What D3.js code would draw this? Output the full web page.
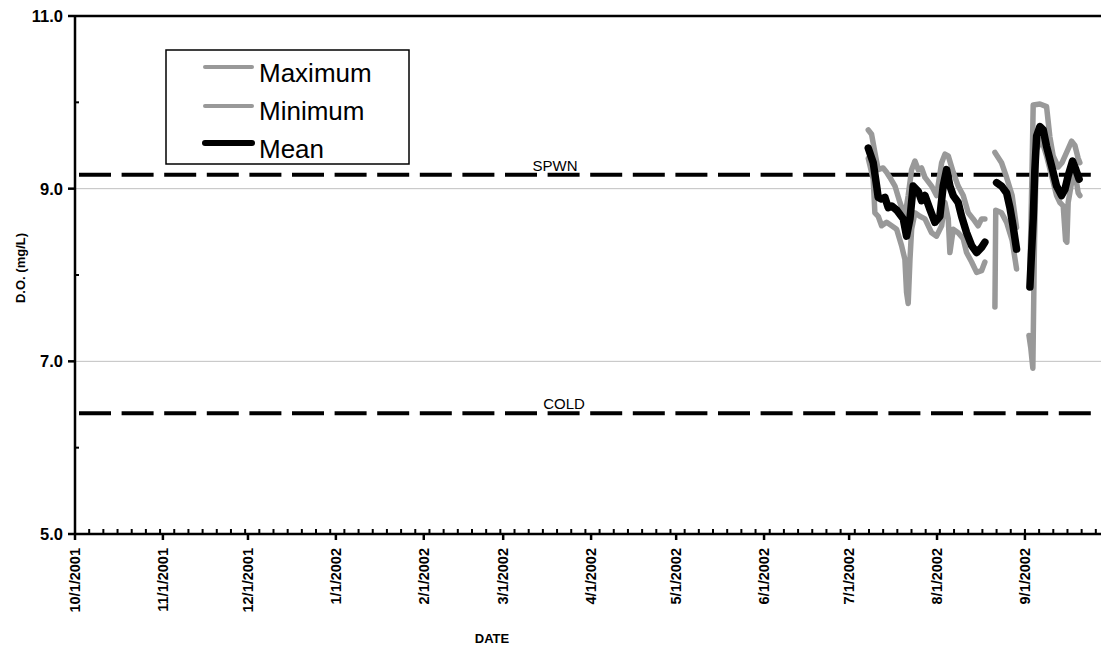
<!DOCTYPE html>
<html>
<head>
<meta charset="utf-8">
<script src="https://cdn.jsdelivr.net/npm/d3@7"></script>
<style>
  html, body { margin: 0; padding: 0; background: #fff; }
  svg { display: block; font-family: Arial, "Liberation Sans", sans-serif; }
</style>
</head>
<body>
<svg id="chart" width="1101" height="649"></svg>
<script>
// ---------- DATA ----------
const xDomain = ["2001-10-01", "2002-10-01"];
const yDomain = [5, 11];
const yMajorTicks = [5, 7, 9, 11];
const yMinorTicks = [6, 8, 10];
const yGridValues = [7, 9];
const monthTickDates = ["2001-10-01","2001-11-01","2001-12-01","2002-01-01","2002-02-01","2002-03-01",
  "2002-04-01","2002-05-01","2002-06-01","2002-07-01","2002-08-01","2002-09-01"];
const minorTickDays = 5;
const criteria = [{ name: "SPWN", value: 9.16 }, { name: "COLD", value: 6.40 }];
const legendNames = ["Maximum", "Minimum", "Mean"];

const maxSeries = [
  ["2002-07-07 18:00",9.68],["2002-07-08 22:00",9.63],["2002-07-10 02:00",9.42],["2002-07-11 06:00",9.22],
  ["2002-07-13 00:00",9.24],["2002-07-14 05:00",9.19],["2002-07-15 09:00",9.13],["2002-07-17 04:00",9.03],
  ["2002-07-18 22:00",8.84],["2002-07-20 16:00",8.68],["2002-07-21 20:00",8.92],["2002-07-23 01:00",9.22],
  ["2002-07-24 05:00",9.32],["2002-07-25 09:00",9.22],["2002-07-26 13:00",9.24],["2002-07-27 18:00",9.13],
  ["2002-07-30 02:00",9.03],["2002-07-31 20:00",8.92],["2002-08-02 15:00",9.30],["2002-08-03 19:00",9.40],
  ["2002-08-04 23:00",9.38],["2002-08-06 17:00",9.19],["2002-08-08 11:00",9.03],["2002-08-10 06:00",8.92],
  ["2002-08-12 00:00",8.72],["2002-08-13 18:00",8.65],["2002-08-15 12:00",8.57],["2002-08-16 17:00",8.65],
  ["2002-08-17 21:00",8.65],
  ["2002-08-20 00:00",null],
  ["2002-08-21 10:00",9.42],["2002-08-23 18:00",9.30],["2002-08-25 13:00",9.13],["2002-08-27 12:00",8.92],
  ["2002-08-29 01:00",8.55],
  ["2002-08-31 00:00",null],
  ["2002-09-02 18:00",8.00],["2002-09-03 12:00",9.20],["2002-09-03 22:00",9.97],["2002-09-06 07:00",9.98],
  ["2002-09-08 15:00",9.95],["2002-09-09 19:00",9.60],["2002-09-10 23:00",9.38],["2002-09-12 18:00",9.25],
  ["2002-09-14 01:00",9.30],["2002-09-15 17:00",9.42],["2002-09-17 11:00",9.55],["2002-09-18 15:00",9.50],
  ["2002-09-19 19:00",9.35],["2002-09-20 09:00",9.30]
];

const minSeries = [
  ["2002-07-07 18:00",9.35],["2002-07-09 12:00",9.11],["2002-07-10 02:00",8.72],["2002-07-11 06:00",8.68],
  ["2002-07-12 11:00",8.57],["2002-07-14 05:00",8.61],["2002-07-16 00:00",8.57],["2002-07-17 18:00",8.53],
  ["2002-07-19 12:00",8.34],["2002-07-20 16:00",8.18],["2002-07-21 06:00",7.80],["2002-07-21 20:00",7.67],
  ["2002-07-22 11:00",8.18],["2002-07-23 01:00",8.53],["2002-07-24 05:00",8.72],["2002-07-25 23:00",8.68],
  ["2002-07-27 18:00",8.65],["2002-07-30 02:00",8.49],["2002-07-31 20:00",8.45],["2002-08-02 15:00",8.57],
  ["2002-08-03 19:00",8.84],["2002-08-04 23:00",8.65],["2002-08-05 13:00",8.26],["2002-08-06 17:00",8.53],
  ["2002-08-08 11:00",8.49],["2002-08-10 06:00",8.42],["2002-08-11 10:00",8.26],["2002-08-13 05:00",8.15],
  ["2002-08-14 23:00",8.03],["2002-08-16 17:00",8.05],["2002-08-17 21:00",8.15],
  ["2002-08-20 00:00",null],
  ["2002-08-21 10:00",7.63],["2002-08-21 17:00",8.75],["2002-08-23 18:00",8.72],["2002-08-25 13:00",8.61],
  ["2002-08-27 12:00",8.40],["2002-08-29 01:00",8.07],
  ["2002-08-31 00:00",null],
  ["2002-09-02 10:00",7.30],["2002-09-03 02:00",7.15],["2002-09-03 19:00",6.92],["2002-09-04 08:00",8.30],
  ["2002-09-05 01:00",9.45],["2002-09-06 21:00",9.57],["2002-09-08 15:00",9.38],["2002-09-10 10:00",9.15],
  ["2002-09-12 04:00",8.92],["2002-09-13 08:00",8.84],["2002-09-14 12:00",8.80],["2002-09-15 08:00",8.40],
  ["2002-09-15 19:00",8.38],["2002-09-16 06:00",8.84],["2002-09-17 11:00",9.07],["2002-09-18 15:00",9.19],
  ["2002-09-19 19:00",8.95],["2002-09-20 09:00",8.92]
];

const meanSeries = [
  ["2002-07-07 18:00",9.47],["2002-07-09 12:00",9.30],["2002-07-10 17:00",9.03],["2002-07-11 06:00",8.90],
  ["2002-07-12 11:00",8.88],["2002-07-13 15:00",8.90],["2002-07-14 19:00",8.78],["2002-07-16 00:00",8.80],
  ["2002-07-17 20:00",8.75],["2002-07-20 02:00",8.65],["2002-07-21 06:00",8.45],["2002-07-22 11:00",8.65],
  ["2002-07-23 14:00",9.03],["2002-07-25 09:00",8.97],["2002-07-26 13:00",8.86],["2002-07-27 18:00",8.92],
  ["2002-07-29 12:00",8.76],["2002-07-31 06:00",8.61],["2002-08-02 00:00",8.68],["2002-08-03 04:00",9.03],
  ["2002-08-04 09:00",9.22],["2002-08-05 13:00",9.03],["2002-08-06 17:00",8.92],["2002-08-08 11:00",8.84],
  ["2002-08-09 16:00",8.68],["2002-08-11 10:00",8.49],["2002-08-13 05:00",8.34],["2002-08-14 23:00",8.26],
  ["2002-08-16 17:00",8.32],["2002-08-17 21:00",8.38],
  ["2002-08-20 00:00",null],
  ["2002-08-22 00:00",9.07],["2002-08-23 18:00",9.03],["2002-08-25 13:00",8.95],["2002-08-26 17:00",8.78],
  ["2002-08-27 18:00",8.58],["2002-08-29 01:00",8.30],
  ["2002-08-31 00:00",null],
  ["2002-09-02 18:00",7.86],["2002-09-03 08:00",8.26],["2002-09-03 22:00",8.65],["2002-09-04 12:00",9.22],
  ["2002-09-05 03:00",9.61],["2002-09-06 07:00",9.72],["2002-09-07 11:00",9.68],["2002-09-08 15:00",9.49],
  ["2002-09-10 10:00",9.26],["2002-09-12 04:00",9.03],["2002-09-13 22:00",8.92],["2002-09-15 02:00",8.99],
  ["2002-09-16 06:00",9.15],["2002-09-17 19:00",9.32],["2002-09-18 23:00",9.22],["2002-09-20 03:00",9.11]
];

// ---------- CHART ----------
(function () {
const W = 1101, H = 649;
const pLeft = 75, pTop = 16, pBottom = 534, pRight = 1110;
const svg = d3.select("#chart");
svg.append("rect").attr("width", W).attr("height", H).attr("fill", "#fff");

const parseDay = d3.timeParse("%Y-%m-%d");
const parseTime = d3.timeParse("%Y-%m-%d %H:%M");

const x = d3.scaleTime().domain(xDomain.map(parseDay)).range([pLeft, pRight]);
const y = d3.scaleLinear().domain(yDomain).range([pBottom, pTop]);

// gridlines
svg.append("g").selectAll("line").data(yGridValues).join("line")
  .attr("x1", pLeft).attr("x2", W).attr("y1", d => y(d)).attr("y2", d => y(d))
  .attr("stroke", "#c0c0c0").attr("stroke-width", 1);

// top border line
svg.append("line").attr("x1", pLeft).attr("x2", W).attr("y1", y(11)).attr("y2", y(11))
  .attr("stroke", "#000").attr("stroke-width", 2.5);

// criteria dashed lines
const crit = svg.append("g");
crit.selectAll("line").data(criteria).join("line")
  .attr("x1", pLeft + 4).attr("x2", W).attr("y1", d => y(d.value)).attr("y2", d => y(d.value))
  .attr("stroke", "#000").attr("stroke-width", 4).attr("stroke-dasharray", "32,10.6");
crit.selectAll("text").data(criteria).join("text")
  .attr("x", (d, i) => i === 0 ? 555 : 564)
  .attr("y", d => y(d.value) - 4)
  .attr("text-anchor", "middle").attr("font-size", 15).attr("fill", "#000")
  .text(d => d.name);

// data lines
const line = d3.line()
  .defined(d => d[1] !== null)
  .x(d => x(parseTime(d[0])))
  .y(d => y(d[1]));

const seriesDefs = [
  { data: maxSeries, color: "#999999", width: 5.5 },
  { data: minSeries, color: "#999999", width: 5.5 },
  { data: meanSeries, color: "#000000", width: 7.5 }
];
svg.append("g").selectAll("path").data(seriesDefs).join("path")
  .attr("d", d => line(d.data))
  .attr("fill", "none")
  .attr("stroke", d => d.color)
  .attr("stroke-width", d => d.width)
  .attr("stroke-linejoin", "round")
  .attr("stroke-linecap", "round");

// y axis
const yAxisG = svg.append("g");
yAxisG.append("line").attr("x1", pLeft).attr("x2", pLeft).attr("y1", pTop - 1).attr("y2", pBottom + 1)
  .attr("stroke", "#000").attr("stroke-width", 2.5);
yAxisG.selectAll("line.maj").data(yMajorTicks).join("line").attr("class", "maj")
  .attr("x1", pLeft - 7).attr("x2", pLeft).attr("y1", d => y(d)).attr("y2", d => y(d))
  .attr("stroke", "#000").attr("stroke-width", 2.5);
yAxisG.selectAll("line.min").data(yMinorTicks).join("line").attr("class", "min")
  .attr("x1", pLeft).attr("x2", pLeft + 4).attr("y1", d => y(d)).attr("y2", d => y(d))
  .attr("stroke", "#000").attr("stroke-width", 2);
yAxisG.selectAll("text").data(yMajorTicks).join("text")
  .attr("x", pLeft - 12).attr("y", d => y(d)).attr("dy", "0.36em")
  .attr("text-anchor", "end").attr("font-size", 16.5).attr("font-weight", "bold")
  .text(d => d3.format(".1f")(d));

// x axis
const xAxisG = svg.append("g");
xAxisG.append("line").attr("x1", pLeft).attr("x2", W).attr("y1", pBottom).attr("y2", pBottom)
  .attr("stroke", "#000").attr("stroke-width", 2.5);
const start = parseDay(xDomain[0]);
const minorDates = d3.range(0, 366, minorTickDays).map(k => d3.timeDay.offset(start, k));
xAxisG.selectAll("line.min").data(minorDates).join("line").attr("class", "min")
  .attr("x1", d => x(d)).attr("x2", d => x(d)).attr("y1", pBottom - 5).attr("y2", pBottom)
  .attr("stroke", "#000").attr("stroke-width", 2);
const monthDates = monthTickDates.map(parseDay);
xAxisG.selectAll("line.maj").data(monthDates).join("line").attr("class", "maj")
  .attr("x1", d => x(d)).attr("x2", d => x(d)).attr("y1", pBottom).attr("y2", pBottom + 6)
  .attr("stroke", "#000").attr("stroke-width", 2.5);
const fmt = d => (d.getMonth() + 1) + "/" + d.getDate() + "/" + d.getFullYear();
xAxisG.selectAll("text").data(monthDates).join("text")
  .attr("transform", d => `translate(${x(d)},${pBottom + 14}) rotate(-90)`)
  .attr("dy", "0.36em").attr("text-anchor", "end")
  .attr("font-size", 14.5).attr("font-weight", "bold")
  .text(fmt);

// axis titles
svg.append("text").attr("transform", "translate(20,268) rotate(-90)")
  .attr("dy", "0.36em").attr("text-anchor", "middle")
  .attr("font-size", 13).attr("font-weight", "bold").text("D.O. (mg/L)");
svg.append("text").attr("x", 492).attr("y", 643).attr("text-anchor", "middle")
  .attr("font-size", 13).attr("font-weight", "bold").text("DATE");

// legend
const lg = svg.append("g");
lg.append("rect").attr("x", 166).attr("y", 50).attr("width", 243).attr("height", 114)
  .attr("fill", "#fff").attr("stroke", "#000").attr("stroke-width", 1.5);
const legendItems = legendNames.map((n, i) => ({ name: n, def: seriesDefs[i], ly: [67, 106, 143][i], ty: [82, 120, 158][i] }));
lg.selectAll("line").data(legendItems).join("line")
  .attr("x1", 205).attr("x2", 252).attr("y1", d => d.ly).attr("y2", d => d.ly)
  .attr("stroke", d => d.def.color).attr("stroke-width", d => d.def.width - 1.5)
  .attr("stroke-linecap", "round");
lg.selectAll("text").data(legendItems).join("text")
  .attr("x", 259).attr("y", d => d.ty).attr("font-size", 26).attr("fill", "#000")
  .text(d => d.name);
})();
</script>
</body>
</html>
